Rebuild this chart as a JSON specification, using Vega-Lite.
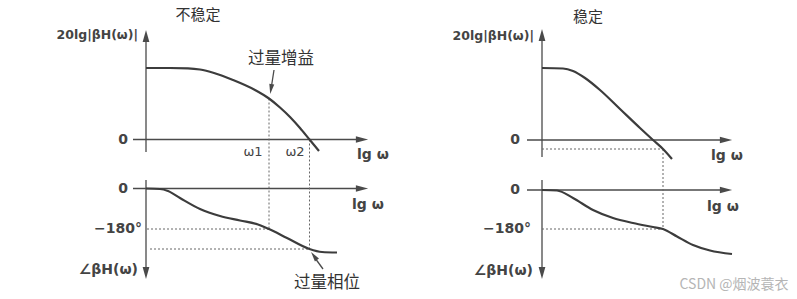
{
  "$schema": "https://vega.github.io/schema/vega-lite/v6.json",
  "width": 797,
  "height": 299,
  "padding": 0,
  "autosize": {"type": "fit", "contains": "padding"},
  "background": "white",
  "config": {"view": {"stroke": null}},
  "datasets": {
    "axes": [
      {"x": 146, "y": 38, "x2": 146, "y2": 152},
      {"x": 133, "y": 139.5, "x2": 360, "y2": 139.5},
      {"x": 146, "y": 180, "x2": 146, "y2": 270},
      {"x": 133, "y": 188.5, "x2": 360, "y2": 188.5},
      {"x": 542, "y": 38, "x2": 542, "y2": 157},
      {"x": 527, "y": 140, "x2": 723, "y2": 140},
      {"x": 542, "y": 180, "x2": 542, "y2": 270},
      {"x": 527, "y": 190, "x2": 723, "y2": 190},
      {"x": 274, "y": 70, "x2": 271.5, "y2": 86},
      {"x": 323, "y": 269, "x2": 315, "y2": 258}
    ],
    "dashed": [
      {"x": 269, "y": 98.5, "x2": 269, "y2": 229},
      {"x": 309.5, "y": 139.5, "x2": 309.5, "y2": 249},
      {"x": 147, "y": 229, "x2": 269, "y2": 229},
      {"x": 150, "y": 249, "x2": 309.5, "y2": 249},
      {"x": 542, "y": 149, "x2": 663, "y2": 149},
      {"x": 663, "y": 149, "x2": 663, "y2": 229},
      {"x": 542, "y": 229, "x2": 663, "y2": 229}
    ],
    "arrowUp": [{"x": 146, "y": 36}, {"x": 542, "y": 35}],
    "arrowDown": [{"x": 146, "y": 273}, {"x": 542, "y": 273}],
    "arrowRight": [
      {"x": 362, "y": 139.5}, {"x": 362, "y": 188.5},
      {"x": 726, "y": 140}, {"x": 726, "y": 190}
    ],
    "arrowGain": [{"x": 271, "y": 89}],
    "arrowPhase": [{"x": 314, "y": 256}],
    "curves": [
      {"s": "m1", "x": 146, "y": 68},
      {"s": "m1", "x": 170, "y": 68},
      {"s": "m1", "x": 188, "y": 68.3},
      {"s": "m1", "x": 200, "y": 69.5},
      {"s": "m1", "x": 214, "y": 73},
      {"s": "m1", "x": 233, "y": 80},
      {"s": "m1", "x": 255, "y": 90},
      {"s": "m1", "x": 269, "y": 98.5},
      {"s": "m1", "x": 280, "y": 107.5},
      {"s": "m1", "x": 290, "y": 117},
      {"s": "m1", "x": 300, "y": 128},
      {"s": "m1", "x": 309.5, "y": 139.5},
      {"s": "m1", "x": 319, "y": 151},
      {"s": "p1", "x": 146, "y": 188.5},
      {"s": "p1", "x": 160, "y": 189},
      {"s": "p1", "x": 168, "y": 191},
      {"s": "p1", "x": 180, "y": 198},
      {"s": "p1", "x": 200, "y": 209},
      {"s": "p1", "x": 220, "y": 216},
      {"s": "p1", "x": 240, "y": 220.5},
      {"s": "p1", "x": 258, "y": 224.5},
      {"s": "p1", "x": 269, "y": 229},
      {"s": "p1", "x": 287, "y": 238},
      {"s": "p1", "x": 309.5, "y": 249},
      {"s": "p1", "x": 322, "y": 252},
      {"s": "p1", "x": 337, "y": 252.5},
      {"s": "m2", "x": 542, "y": 68},
      {"s": "m2", "x": 563, "y": 68.5},
      {"s": "m2", "x": 573, "y": 71},
      {"s": "m2", "x": 585, "y": 78},
      {"s": "m2", "x": 600, "y": 90},
      {"s": "m2", "x": 620, "y": 109},
      {"s": "m2", "x": 640, "y": 128},
      {"s": "m2", "x": 653, "y": 140},
      {"s": "m2", "x": 663, "y": 149},
      {"s": "m2", "x": 672, "y": 159},
      {"s": "p2", "x": 542, "y": 190},
      {"s": "p2", "x": 557, "y": 190.5},
      {"s": "p2", "x": 573, "y": 198},
      {"s": "p2", "x": 593, "y": 210},
      {"s": "p2", "x": 613, "y": 218},
      {"s": "p2", "x": 633, "y": 223},
      {"s": "p2", "x": 653, "y": 227},
      {"s": "p2", "x": 663, "y": 229},
      {"s": "p2", "x": 677, "y": 236.5},
      {"s": "p2", "x": 693, "y": 245},
      {"s": "p2", "x": 710, "y": 250.5},
      {"s": "p2", "x": 732, "y": 254}
    ],
    "titles": [
      {"x": 198, "y": 15, "t": "不稳定"},
      {"x": 588, "y": 17, "t": "稳定"}
    ],
    "labelsBig": [
      {"x": 281, "y": 59, "t": "过量增益"},
      {"x": 327, "y": 283, "t": "过量相位"}
    ],
    "axisTitles": [
      {"x": 138, "y": 35, "t": "20lg|βH(ω)|"},
      {"x": 534, "y": 36, "t": "20lg|βH(ω)|"}
    ],
    "labelsRight": [
      {"x": 128, "y": 139.5, "t": "0"},
      {"x": 128, "y": 189, "t": "0"},
      {"x": 520, "y": 140, "t": "0"},
      {"x": 520, "y": 190, "t": "0"},
      {"x": 142, "y": 229, "t": "−180°"},
      {"x": 531, "y": 229, "t": "−180°"},
      {"x": 138, "y": 270, "t": "∠βH(ω)"},
      {"x": 533, "y": 271, "t": "∠βH(ω)"}
    ],
    "lgw": [
      {"x": 373, "y": 155, "t": "lg ω"},
      {"x": 368, "y": 205, "t": "lg ω"},
      {"x": 727, "y": 156, "t": "lg ω"},
      {"x": 723, "y": 207, "t": "lg ω"}
    ],
    "omega": [
      {"x": 253, "y": 152, "t": "ω1"},
      {"x": 295, "y": 152, "t": "ω2"}
    ],
    "watermark": [{"x": 734, "y": 285, "t": "CSDN @烟波蓑衣"}]
  },
  "data": {"name": "axes"},
  "layer": [
    {
      "data": {"name": "axes"},
      "mark": {"type": "rule", "color": "#4a4a4a", "strokeWidth": 1.3},
      "encoding": {
        "x": {"field": "x", "type": "quantitative", "scale": {"domain": [0, 797], "nice": false, "zero": false}, "axis": null},
        "y": {"field": "y", "type": "quantitative", "scale": {"domain": [0, 299], "nice": false, "zero": false, "reverse": true}, "axis": null},
        "x2": {"field": "x2"},
        "y2": {"field": "y2"}
      }
    },
    {
      "data": {"name": "dashed"},
      "mark": {"type": "rule", "color": "#666", "strokeWidth": 1, "strokeDash": [2, 2]},
      "encoding": {
        "x": {"field": "x", "type": "quantitative"},
        "y": {"field": "y", "type": "quantitative"},
        "x2": {"field": "x2"},
        "y2": {"field": "y2"}
      }
    },
    {
      "data": {"name": "curves"},
      "mark": {"type": "line", "color": "#3c3c3c", "strokeWidth": 2.2, "interpolate": "monotone"},
      "encoding": {
        "x": {"field": "x", "type": "quantitative"},
        "y": {"field": "y", "type": "quantitative"},
        "detail": {"field": "s"},
        "order": {"field": "x", "type": "quantitative"}
      }
    },
    {
      "data": {"name": "arrowUp"},
      "mark": {"type": "point", "shape": "M0,-1L0.55,1L-0.55,1Z", "filled": true, "color": "#4a4a4a", "opacity": 1, "size": 150, "angle": 0},
      "encoding": {"x": {"field": "x", "type": "quantitative"}, "y": {"field": "y", "type": "quantitative"}}
    },
    {
      "data": {"name": "arrowDown"},
      "mark": {"type": "point", "shape": "M0,-1L0.55,1L-0.55,1Z", "filled": true, "color": "#4a4a4a", "opacity": 1, "size": 150, "angle": 180},
      "encoding": {"x": {"field": "x", "type": "quantitative"}, "y": {"field": "y", "type": "quantitative"}}
    },
    {
      "data": {"name": "arrowRight"},
      "mark": {"type": "point", "shape": "M0,-1L0.55,1L-0.55,1Z", "filled": true, "color": "#4a4a4a", "opacity": 1, "size": 150, "angle": 90},
      "encoding": {"x": {"field": "x", "type": "quantitative"}, "y": {"field": "y", "type": "quantitative"}}
    },
    {
      "data": {"name": "arrowGain"},
      "mark": {"type": "point", "shape": "M0,-1L0.5,1L-0.5,1Z", "filled": true, "color": "#4a4a4a", "opacity": 1, "size": 100, "angle": 189},
      "encoding": {"x": {"field": "x", "type": "quantitative"}, "y": {"field": "y", "type": "quantitative"}}
    },
    {
      "data": {"name": "arrowPhase"},
      "mark": {"type": "point", "shape": "M0,-1L0.5,1L-0.5,1Z", "filled": true, "color": "#4a4a4a", "opacity": 1, "size": 100, "angle": 324},
      "encoding": {"x": {"field": "x", "type": "quantitative"}, "y": {"field": "y", "type": "quantitative"}}
    },
    {
      "data": {"name": "titles"},
      "mark": {"type": "text", "font": "Noto Sans CJK SC", "fontSize": 15, "color": "#333", "align": "center", "baseline": "middle"},
      "encoding": {"x": {"field": "x", "type": "quantitative"}, "y": {"field": "y", "type": "quantitative"}, "text": {"field": "t"}}
    },
    {
      "data": {"name": "labelsBig"},
      "mark": {"type": "text", "font": "Noto Sans CJK SC", "fontSize": 16.5, "color": "#333", "align": "center", "baseline": "middle"},
      "encoding": {"x": {"field": "x", "type": "quantitative"}, "y": {"field": "y", "type": "quantitative"}, "text": {"field": "t"}}
    },
    {
      "data": {"name": "axisTitles"},
      "mark": {"type": "text", "font": "DejaVu Sans", "fontSize": 12.5, "fontWeight": "bold", "color": "#444", "align": "right", "baseline": "middle"},
      "encoding": {"x": {"field": "x", "type": "quantitative"}, "y": {"field": "y", "type": "quantitative"}, "text": {"field": "t"}}
    },
    {
      "data": {"name": "labelsRight"},
      "mark": {"type": "text", "font": "DejaVu Sans", "fontSize": 14, "fontWeight": "bold", "color": "#444", "align": "right", "baseline": "middle"},
      "encoding": {"x": {"field": "x", "type": "quantitative"}, "y": {"field": "y", "type": "quantitative"}, "text": {"field": "t"}}
    },
    {
      "data": {"name": "lgw"},
      "mark": {"type": "text", "font": "DejaVu Sans", "fontSize": 14, "fontWeight": "bold", "color": "#444", "align": "center", "baseline": "middle"},
      "encoding": {"x": {"field": "x", "type": "quantitative"}, "y": {"field": "y", "type": "quantitative"}, "text": {"field": "t"}}
    },
    {
      "data": {"name": "omega"},
      "mark": {"type": "text", "font": "DejaVu Sans", "fontSize": 13, "color": "#444", "align": "center", "baseline": "middle"},
      "encoding": {"x": {"field": "x", "type": "quantitative"}, "y": {"field": "y", "type": "quantitative"}, "text": {"field": "t"}}
    },
    {
      "data": {"name": "watermark"},
      "mark": {"type": "text", "font": "Noto Sans CJK SC", "fontSize": 14, "color": "#b5b5b5", "align": "center", "baseline": "middle"},
      "encoding": {"x": {"field": "x", "type": "quantitative"}, "y": {"field": "y", "type": "quantitative"}, "text": {"field": "t"}}
    }
  ]
}
